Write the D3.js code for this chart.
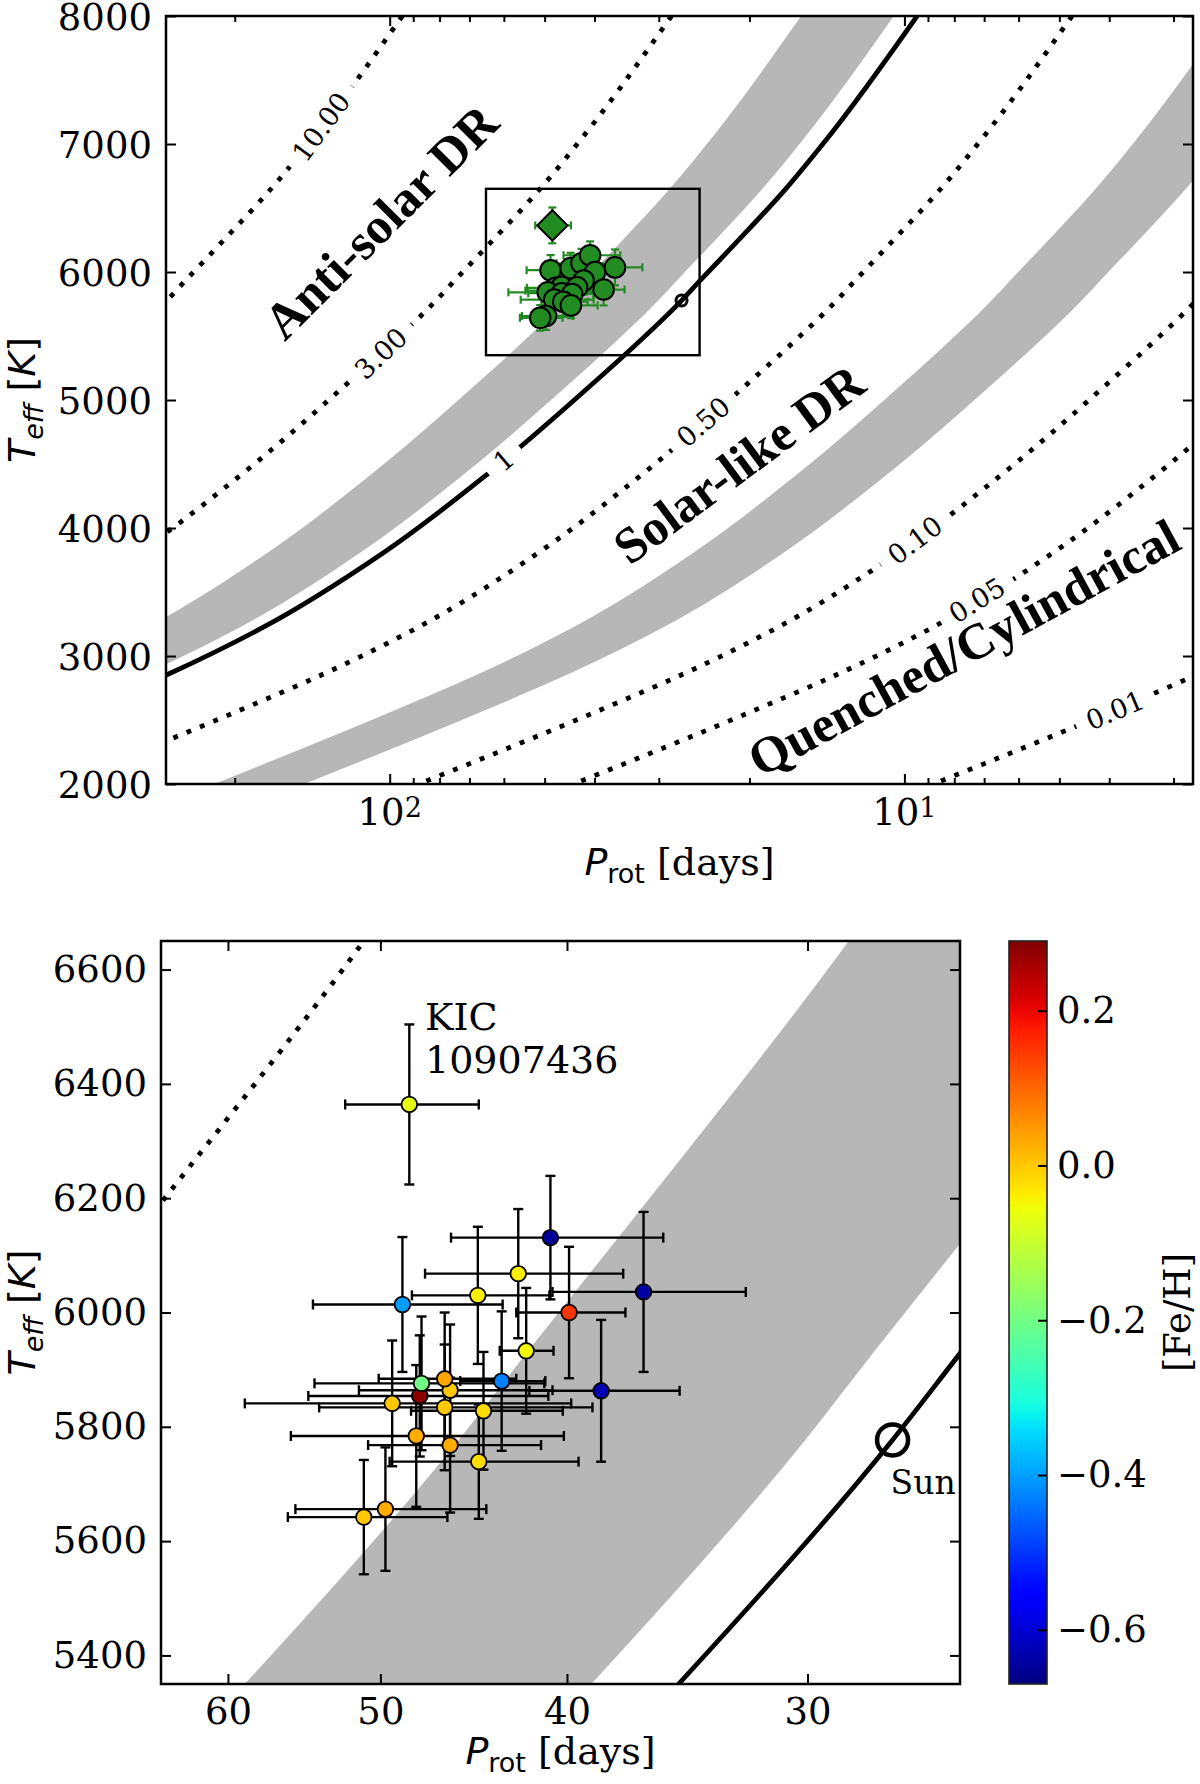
<!DOCTYPE html>
<html>
<head>
<meta charset="utf-8">
<title>Prot - Teff with Rossby contours</title>
<script src="https://cdn.jsdelivr.net/npm/d3@7/dist/d3.min.js"></script>
<style>
  body { margin: 0; background: #fff; }
</style>
</head>
<body>
<svg id="chart" width="1200" height="1784"></svg>
<script>
// ---- values ----
// stars (first one is KIC 10907436, the diamond in the upper panel)
const starProt    = [48.3, 48.7, 44.5, 42.4, 40.8, 39.9, 42.0, 36.5, 38.4, 47.7, 47.6, 46.0, 46.3, 43.25, 49.3, 46.3, 44.2, 47.9, 46.0, 44.45, 49.7, 51.0]
const starProtErr = [3.85, 5.5, 3.65, 5.0, 5.15, 2.6, 1.35, 4.2, 3.44, 6.8, 6.5, 5.3, 3.8, 2.2, 9.5, 7.5, 4.0, 7.75, 4.74, 5.0, 5.65, 4.85]
const starTeff    = [6364, 6014, 6030, 6068, 6131, 6000, 5933, 6036, 5863, 5854, 5876, 5864, 5884, 5880, 5841, 5834, 5828, 5784, 5768, 5739, 5656, 5642]
const starTeffErr = [140, 118, 120, 113, 108, 115, 110, 140, 124, 106, 117, 115, 116, 122, 110, 110, 103, 124, 118, 100, 108, 100]
const starFeH     = [-0.07, -0.40, -0.04, -0.04, -0.65, 0.15, -0.05, -0.64, -0.63, 0.28, -0.20, 0.0, 0.035, -0.43, 0.0, 0.0, -0.02, 0.03, 0.03, -0.02, 0.03, 0.0]

// the solid "1" curve (through the Sun), Teff [K] vs Prot [days]
const roTeff = [2000, 2578, 2859, 3227, 3805, 4414, 5180, 5350, 5777, 5932, 6206, 6650, 7031, 8000]
const roProt = [878, 390, 269, 175.6, 103, 64.9, 39.0, 35.0, 27.1, 24.95, 21.5, 17.0, 14.2, 9.45]
const contourLevels = [10, 3, 1, 0.5, 0.1, 0.05, 0.01]
const contourLabels = ['10.00', '3.00', '1', '0.50', '0.10', '0.05', '0.01']
const contourLabelTeff = [7135, 5365, 4531, 4830, 3906, 3437, 2578]
const bandLevels = [[1.11, 1.68], [0.167, 0.25]]
const sunProt = 27.1
const sunTeff = 5777

const topTeffTicks = [2000, 3000, 4000, 5000, 6000, 7000, 8000]
const topProtMajor = [100, 10]
const topProtMinor = [3, 4, 5, 6, 7, 8, 9, 20, 30, 40, 50, 60, 70, 80, 90, 200]
const botTeffTicks = [5400, 5600, 5800, 6000, 6200, 6400, 6600]
const botProtTicks = [60, 50, 40, 30]
const fehTicks = [-0.6, -0.4, -0.2, 0, 0.2]

// ---- setup ----
const svg = d3.select('#chart')
const defs = svg.append('defs')

const SERIF = "'DejaVu Serif', serif"
const SANS = "'DejaVu Sans', sans-serif"
const TIMES = "'Liberation Serif', 'Times New Roman', serif"
const GREEN = '#228b22'
const BAND = '#b7b7b7'

const topBox = { left: 166, right: 1193, top: 16, bottom: 784 }
const botBox = { left: 161, right: 960, top: 941, bottom: 1684 }
const barBox = { left: 1009, right: 1047, top: 941, bottom: 1684 }

const xTop = d3.scaleLog().domain([272, 2.75]).range([topBox.left, topBox.right])
const yTop = d3.scaleLinear().domain([2000, 8000]).range([topBox.bottom, topBox.top])
const xBot = d3.scaleLog().domain([65, 25]).range([botBox.left, botBox.right])
const yBot = d3.scaleLinear().domain([5350, 6650]).range([botBox.bottom, botBox.top])
const cBar = d3.scaleLinear().domain([-0.67, 0.29]).range([barBox.bottom, barBox.top])

// matplotlib jet
const jetR = d3.scaleLinear().domain([0, 0.35, 0.66, 0.89, 1]).range([0, 0, 1, 1, 0.5]).clamp(true)
const jetG = d3.scaleLinear().domain([0, 0.125, 0.375, 0.64, 0.91, 1]).range([0, 0, 1, 1, 0, 0]).clamp(true)
const jetB = d3.scaleLinear().domain([0, 0.11, 0.34, 0.65, 1]).range([0.5, 1, 1, 0, 0]).clamp(true)
const fehToT = d3.scaleLinear().domain(cBar.domain()).range([0, 1]).clamp(true)
function jet (t) { return d3.rgb(jetR(t) * 255, jetG(t) * 255, jetB(t) * 255).formatHex() }

// curve points ordered top to bottom on screen (hot to cool)
const order = d3.range(roTeff.length).reverse()

function clipFor (id, box) {
  defs.append('clipPath').attr('id', id).append('rect')
    .attr('x', box.left).attr('y', box.top)
    .attr('width', box.right - box.left).attr('height', box.bottom - box.top)
  return 'url(#' + id + ')'
}

function frame (box) {
  svg.append('rect')
    .attr('x', box.left).attr('y', box.top)
    .attr('width', box.right - box.left).attr('height', box.bottom - box.top)
    .attr('fill', 'none').attr('stroke', '#000').attr('stroke-width', 2.5)
}

function styleAxis (g) {
  g.select('.domain').remove()
  g.selectAll('.tick line').attr('stroke', '#000').attr('stroke-width', 2)
  g.selectAll('.tick text').attr('fill', '#000').attr('font-family', SERIF).attr('font-size', 37)
}

// bands + contour curves, clipped to a panel
function drawModel (x, y, box, id) {
  const layer = svg.append('g').attr('clip-path', clipFor(id, box))
  bandLevels.forEach(([lo, hi]) => {
    const area = d3.area().curve(d3.curveMonotoneY)
      .y(i => y(roTeff[i]))
      .x0(i => x(roProt[i] * lo))
      .x1(i => x(roProt[i] * hi))
    layer.append('path').attr('d', area(order)).attr('fill', BAND)
  })
  const lines = layer.append('g')
  contourLevels.forEach(k => {
    const line = d3.line().curve(d3.curveMonotoneY)
      .x(i => x(roProt[i] * k))
      .y(i => y(roTeff[i]))
    lines.append('path').attr('d', line(order))
      .attr('fill', 'none').attr('stroke', '#000').attr('stroke-width', 4.8)
      .attr('stroke-dasharray', k === 1 ? null : '4.8 9.6')
  })
  return lines
}

function drawErrorBars (x, y, color, width, cap) {
  const g = svg.append('g').attr('stroke', color).attr('stroke-width', width)
  starProt.forEach((p, i) => {
    const cx = x(p), cy = y(starTeff[i])
    const x0 = x(p + starProtErr[i]), x1 = x(p - starProtErr[i])
    const y0 = y(starTeff[i] + starTeffErr[i]), y1 = y(starTeff[i] - starTeffErr[i])
    g.append('line').attr('x1', x0).attr('x2', x1).attr('y1', cy).attr('y2', cy)
    g.append('line').attr('x1', cx).attr('x2', cx).attr('y1', y0).attr('y2', y1)
    ;[x0, x1].forEach(v => g.append('line').attr('x1', v).attr('x2', v).attr('y1', cy - cap).attr('y2', cy + cap))
    ;[y0, y1].forEach(v => g.append('line').attr('y1', v).attr('y2', v).attr('x1', cx - cap).attr('x2', cx + cap))
  })
}

// ================= top panel =================
const topLines = drawModel(xTop, yTop, topBox, 'clipTop')

// inline contour labels with gaps cut in the curves
const pLog = d3.scaleLinear().domain(roTeff).range(roProt.map(Math.log10))
const gaps = defs.append('mask').attr('id', 'gaps').attr('maskUnits', 'userSpaceOnUse')
  .attr('x', 0).attr('y', 0).attr('width', 1200).attr('height', 1784)
gaps.append('rect').attr('width', 1200).attr('height', 1784).attr('fill', '#fff')
const labelG = svg.append('g')
contourLevels.forEach((k, i) => {
  const at = t => [xTop(k * Math.pow(10, pLog(t))), yTop(t)]
  const t = contourLabelTeff[i]
  const [px, py] = at(t)
  const [ax, ay] = at(t - 60)
  const [bx, by] = at(t + 60)
  const ang = Math.atan2(by - ay, bx - ax) * 180 / Math.PI
  const tr = 'translate(' + px + ',' + py + ') rotate(' + ang + ')'
  const txt = labelG.append('text').attr('transform', tr)
    .attr('text-anchor', 'middle').attr('dy', '0.36em')
    .attr('font-family', SERIF).attr('font-size', 27).text(contourLabels[i])
  const w = txt.node().getComputedTextLength() + 24
  gaps.append('rect').attr('transform', tr)
    .attr('x', -w / 2).attr('y', -16).attr('width', w).attr('height', 32).attr('fill', '#000')
})
topLines.attr('mask', 'url(#gaps)')

// regime names
const regimes = [
  { text: 'Anti-solar DR', x: 393, y: 234, rot: -45 },
  { text: 'Solar-like DR', x: 749, y: 478, rot: -36.5 },
  { text: 'Quenched/Cylindrical', x: 972, y: 663, rot: -28.5 }
]
regimes.forEach(r => {
  svg.append('text')
    .attr('transform', 'translate(' + r.x + ',' + r.y + ') rotate(' + r.rot + ')')
    .attr('text-anchor', 'middle').attr('font-family', TIMES).attr('font-weight', 'bold')
    .attr('font-size', 51).text(r.text)
})

// zoom box = lower panel limits
svg.append('rect')
  .attr('x', xTop(xBot.domain()[0])).attr('y', yTop(yBot.domain()[1]))
  .attr('width', xTop(xBot.domain()[1]) - xTop(xBot.domain()[0]))
  .attr('height', yTop(yBot.domain()[0]) - yTop(yBot.domain()[1]))
  .attr('fill', 'none').attr('stroke', '#000').attr('stroke-width', 2.4)

svg.append('circle').attr('cx', xTop(sunProt)).attr('cy', yTop(sunTeff)).attr('r', 5.5)
  .attr('fill', 'none').attr('stroke', '#000').attr('stroke-width', 3)

drawErrorBars(xTop, yTop, GREEN, 2.2, 4)
svg.append('g').selectAll('circle').data(starProt.slice(1)).join('circle')
  .attr('cx', d => xTop(d)).attr('cy', (d, i) => yTop(starTeff[i + 1])).attr('r', 10.3)
  .attr('fill', GREEN).attr('stroke', '#000').attr('stroke-width', 2)
svg.append('path')
  .attr('d', d3.symbol(d3.symbolSquare, 460)())
  .attr('transform', 'translate(' + xTop(starProt[0]) + ',' + yTop(starTeff[0]) + ') rotate(45)')
  .attr('fill', GREEN).attr('stroke', '#000').attr('stroke-width', 2)

// axes
svg.append('g').attr('transform', 'translate(' + topBox.left + ',0)')
  .call(d3.axisLeft(yTop).tickValues(topTeffTicks).tickSize(-10).tickPadding(14).tickFormat(d3.format('d')))
  .call(styleAxis)
  .call(g => g.selectAll('.tick text').attr('dy', '0.37em'))
svg.append('g').attr('transform', 'translate(' + topBox.right + ',0)')
  .call(d3.axisRight(yTop).tickValues(topTeffTicks).tickSize(-10).tickFormat(''))
  .call(styleAxis)
;[[topBox.bottom, d3.axisBottom], [topBox.top, d3.axisTop]].forEach(([yy, ax]) => {
  svg.append('g').attr('transform', 'translate(0,' + yy + ')')
    .call(ax(xTop).tickValues(topProtMajor).tickSize(-10).tickFormat('')).call(styleAxis)
  svg.append('g').attr('transform', 'translate(0,' + yy + ')')
    .call(ax(xTop).tickValues(topProtMinor).tickSize(-6).tickFormat('')).call(styleAxis)
})
topProtMajor.forEach(v => {
  const t = svg.append('text').attr('x', xTop(v)).attr('y', topBox.bottom + 41)
    .attr('text-anchor', 'middle').attr('font-family', SERIF).attr('font-size', 37)
  t.append('tspan').text('10')
  t.append('tspan').attr('font-size', 27).attr('dy', -8).text(String(Math.round(Math.log10(v))))
})
frame(topBox)

// ================= bottom panel =================
drawModel(xBot, yBot, botBox, 'clipBot')

svg.append('circle').attr('cx', xBot(sunProt)).attr('cy', yBot(sunTeff)).attr('r', 15.5)
  .attr('fill', 'none').attr('stroke', '#000').attr('stroke-width', 4.5)
svg.append('text').attr('x', xBot(sunProt) - 2).attr('y', yBot(sunTeff) + 54)
  .attr('font-family', SERIF).attr('font-size', 33).text('Sun')

drawErrorBars(xBot, yBot, '#000', 2.4, 5)
svg.append('g').selectAll('circle').data(starProt).join('circle')
  .attr('cx', d => xBot(d)).attr('cy', (d, i) => yBot(starTeff[i])).attr('r', 7.8)
  .attr('fill', (d, i) => jet(fehToT(starFeH[i]))).attr('stroke', '#000').attr('stroke-width', 1.8)

const kic = svg.append('text').attr('font-family', SERIF).attr('font-size', 38)
kic.append('tspan').attr('x', 425).attr('y', 1030).text('KIC')
kic.append('tspan').attr('x', 425).attr('y', 1073).text('10907436')

svg.append('g').attr('transform', 'translate(' + botBox.left + ',0)')
  .call(d3.axisLeft(yBot).tickValues(botTeffTicks).tickSize(-10).tickPadding(14).tickFormat(d3.format('d')))
  .call(styleAxis)
svg.append('g').attr('transform', 'translate(' + botBox.right + ',0)')
  .call(d3.axisRight(yBot).tickValues(botTeffTicks).tickSize(-10).tickFormat(''))
  .call(styleAxis)
svg.append('g').attr('transform', 'translate(0,' + botBox.bottom + ')')
  .call(d3.axisBottom(xBot).tickValues(botProtTicks).tickSize(-10).tickFormat(d3.format('d')))
  .call(styleAxis)
  .call(g => g.selectAll('.tick text').attr('y', 40).attr('dy', 0))
svg.append('g').attr('transform', 'translate(0,' + botBox.top + ')')
  .call(d3.axisTop(xBot).tickValues(botProtTicks).tickSize(-10).tickFormat(''))
  .call(styleAxis)
frame(botBox)

// ================= colour bar =================
const grad = defs.append('linearGradient').attr('id', 'jet')
  .attr('x1', 0).attr('y1', 1).attr('x2', 0).attr('y2', 0)
d3.range(0, 1.0001, 0.02).forEach(t => {
  grad.append('stop').attr('offset', t).attr('stop-color', jet(t))
})
svg.append('rect').attr('x', barBox.left).attr('y', barBox.top)
  .attr('width', barBox.right - barBox.left).attr('height', barBox.bottom - barBox.top)
  .attr('fill', 'url(#jet)').attr('stroke', '#222').attr('stroke-width', 1.6)
svg.append('g').attr('transform', 'translate(' + barBox.right + ',0)')
  .call(d3.axisRight(cBar).tickValues(fehTicks).tickSize(-9).tickPadding(10).tickFormat(d3.format('.1f')))
  .call(styleAxis)
svg.append('text').attr('transform', 'translate(1190,' + (barBox.top + barBox.bottom) / 2 + ') rotate(-90)')
  .attr('text-anchor', 'middle').attr('font-family', SERIF).attr('font-size', 37).text('[Fe/H]')

// ================= axis titles =================
function xTitle (cx, baseline) {
  const t = svg.append('text').attr('x', cx).attr('y', baseline).attr('text-anchor', 'middle').attr('font-size', 38)
  t.append('tspan').attr('font-family', SANS).attr('font-style', 'italic').text('P')
  t.append('tspan').attr('font-family', SANS).attr('font-size', 27).attr('dy', 8).text('rot')
  t.append('tspan').attr('font-family', SERIF).attr('dy', -8).text(' [days]')
}
function yTitle (baseline, cy) {
  const t = svg.append('text').attr('transform', 'translate(' + baseline + ',' + cy + ') rotate(-90)')
    .attr('text-anchor', 'middle').attr('font-family', SANS).attr('font-size', 38)
  t.append('tspan').attr('font-style', 'italic').text('T')
  t.append('tspan').attr('font-style', 'italic').attr('font-size', 27).attr('dy', 8).text('eff')
  t.append('tspan').attr('dy', -8).text(' [')
  t.append('tspan').attr('font-style', 'italic').text('K')
  t.append('tspan').text(']')
}
xTitle((topBox.left + topBox.right) / 2, 875)
xTitle((botBox.left + botBox.right) / 2, 1764)
yTitle(35, (topBox.top + topBox.bottom) / 2)
yTitle(35, (botBox.top + botBox.bottom) / 2)
</script>
</body>
</html>
